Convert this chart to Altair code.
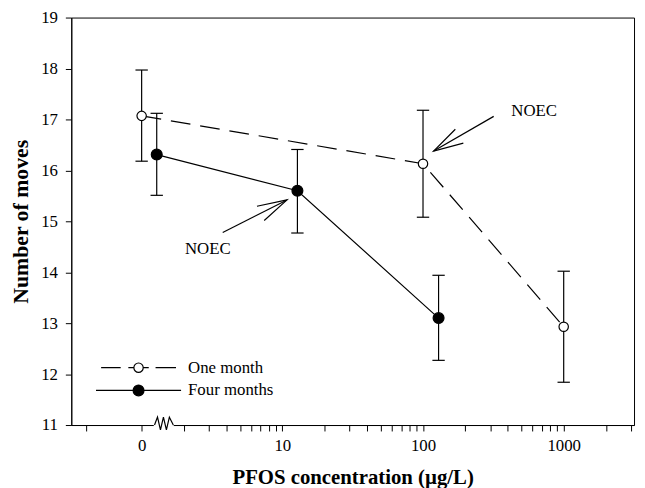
import altair as alt
import pandas as pd

# ---- data (x position of the "0" group is drawn at 1 because of the axis break)
series_names = ["One month", "Four months"]
one_x = [1, 100, 1000]
one_mean = [17.07, 16.13, 12.93]
one_lo = [16.18, 15.08, 11.84]
one_hi = [17.97, 17.18, 14.02]
four_x = [1.28, 12.8, 129]
four_mean = [16.31, 15.60, 13.10]
four_lo = [15.51, 14.77, 12.27]
four_hi = [17.12, 16.41, 13.94]

x_tick_values = [0.4, 1, 2, 3, 4, 5, 6, 7, 8, 9, 10, 20, 30, 40, 50, 60, 70, 80, 90,
                 100, 200, 300, 400, 500, 600, 700, 800, 900, 1000, 2000, 3000]
y_tick_values = [11, 12, 13, 14, 15, 16, 17, 18, 19]

# annotations (data units)
ann_text = ["NOEC", "NOEC"]
ann_text_x = [617, 2.95]
ann_text_y = [17.17, 14.46]
ann_from_x = [318, 3.77]
ann_from_y = [17.06, 14.78]
ann_to_x = [119, 10.8]
ann_to_y = [16.38, 15.42]
ann_angle = [150, 333]

break_x = [1.44]
break_from = [1.22]
break_to = [1.69]

FONT = "Liberation Serif"

rows = []
for x, m, lo, hi in zip(one_x, one_mean, one_lo, one_hi):
    rows.append(dict(series=series_names[0], x=x, mean=m, lo=lo, hi=hi))
for x, m, lo, hi in zip(four_x, four_mean, four_lo, four_hi):
    rows.append(dict(series=series_names[1], x=x, mean=m, lo=lo, hi=hi))
df = pd.DataFrame(rows)
df_one = df[df.series == series_names[0]]
df_four = df[df.series == series_names[1]]

ann = pd.DataFrame(dict(text=ann_text, tx=ann_text_x, ty=ann_text_y,
                        fx=ann_from_x, fy=ann_from_y, ax=ann_to_x, ay=ann_to_y,
                        angle=ann_angle))
brk = pd.DataFrame(dict(x=break_x, x1=break_from, x2=break_to, y=[11]))

xscale = alt.Scale(type="log", domain=[0.3162, 3162], nice=False)
yscale = alt.Scale(domain=[11, 19], nice=False, zero=False)

x_axis = alt.Axis(
    values=x_tick_values,
    labelExpr="datum.value == 1 ? '0' : (datum.value == 10 || datum.value == 100 || datum.value == 1000) ? format(datum.value, 'd') : ''",
    title="PFOS concentration (µg/L)",
    labelOverlap=False,
    grid=False,
    tickSize=6,
    labelPadding=7,
    titlePadding=13,
    titleFontSize=21,
)
y_axis = alt.Axis(
    values=y_tick_values,
    title="Number of moves",
    grid=False,
    tickSize=6,
    labelPadding=8,
    titlePadding=8,
    titleFontSize=22,
)

X = alt.X("x:Q", scale=xscale, axis=x_axis)
Y = alt.Y("mean:Q", scale=yscale, axis=y_axis)

base = alt.Chart(df)

err_rule = base.mark_rule(color="black", strokeWidth=1.2).encode(
    x=alt.X("x:Q", scale=xscale), y=alt.Y("lo:Q", scale=yscale), y2="hi:Q"
)
cap_path = "M-1,0L1,0"
cap_lo = base.mark_point(shape=cap_path, size=156, filled=False, stroke="black",
                         strokeWidth=1.2, opacity=1).encode(
    x=alt.X("x:Q", scale=xscale), y=alt.Y("lo:Q", scale=yscale))
cap_hi = base.mark_point(shape=cap_path, size=156, filled=False, stroke="black",
                         strokeWidth=1.2, opacity=1).encode(
    x=alt.X("x:Q", scale=xscale), y=alt.Y("hi:Q", scale=yscale))

line_one = alt.Chart(df_one).mark_line(
    color="black", strokeWidth=1.2, strokeDash=[20, 10]).encode(x=X, y=Y, order="x:Q")
line_four = alt.Chart(df_four).mark_line(
    color="black", strokeWidth=1.2).encode(x=X, y=Y, order="x:Q")

points_one = alt.Chart(df_one).mark_point(
    shape="circle", size=90, filled=True, fill="white", stroke="black",
    strokeWidth=1.2, opacity=1).encode(x=X, y=Y)
points_four = alt.Chart(df_four).mark_point(
    shape="circle", size=121, filled=True, fill="black", stroke="black",
    strokeWidth=1.2, opacity=1).encode(x=X, y=Y)

# legend symbols: line + marker drawn as one path each
R = 0.128
r = 0.11
circle_f = f"M{R},0A{R},{R} 0 1,1 -{R},0A{R},{R} 0 1,1 {R},0Z"
circle_o = f"M{r},0A{r},{r} 0 1,1 -{r},0A{r},{r} 0 1,1 {r},0Z"
path_one = "M-0.88,0L-0.42,0M-0.24,0L-0.11,0M0.11,0L0.24,0M0.40,0L0.88,0" + circle_o
path_four = "M-1,0L1,0" + circle_f


def make_legend(y, path):
    return alt.Legend(
        title=None, orient="none", legendX=24, legendY=y, padding=0,
        labelOffset=6, labelFont=FONT, labelFontSize=17, labelColor="black",
        symbolSize=7396, symbolType=path, symbolStrokeColor="black",
        symbolStrokeWidth=1.2, symbolOpacity=1,
    )


leg_df = pd.DataFrame({"s1": [series_names[0]], "s2": [series_names[1]],
                       "x": [1], "mean": [15]})
legend_one = alt.Chart(leg_df).transform_filter("datum.x > 100000").mark_point(
    shape=path_one, filled=True, stroke="black", strokeWidth=1.2, opacity=1).encode(
    x=alt.X("x:Q", scale=xscale), y=alt.Y("mean:Q", scale=yscale),
    fill=alt.Fill("s1:N", scale=alt.Scale(domain=[series_names[0]], range=["white"]),
                  legend=make_legend(310, path_one)),
)
legend_four = alt.Chart(leg_df).transform_filter("datum.x > 100000").mark_point(
    shape=path_four, filled=True, fill="black", strokeWidth=1.2, opacity=1).encode(
    x=alt.X("x:Q", scale=xscale), y=alt.Y("mean:Q", scale=yscale),
    stroke=alt.Stroke("s2:N", scale=alt.Scale(domain=[series_names[1]], range=["black"]),
                      legend=make_legend(333, path_four)),
)

ann_base = alt.Chart(ann)
shafts = ann_base.mark_rule(color="black", strokeWidth=1.2).encode(
    x=alt.X("fx:Q", scale=xscale), y=alt.Y("fy:Q", scale=yscale),
    x2="ax:Q", y2="ay:Q")
heads = ann_base.mark_point(shape="M-1,-0.27L0,0L-1,0.27", size=3600, filled=False,
                            stroke="black", strokeWidth=1.2, opacity=1).encode(
    x=alt.X("ax:Q", scale=xscale), y=alt.Y("ay:Q", scale=yscale),
    angle=alt.Angle("angle:Q", scale=None))
labels = ann_base.mark_text(font=FONT, fontSize=17, color="black", align="center",
                            baseline="middle").encode(
    x=alt.X("tx:Q", scale=xscale), y=alt.Y("ty:Q", scale=yscale), text="text:N")

brk_base = alt.Chart(brk)
brk_white = brk_base.mark_rule(color="white", strokeWidth=3).encode(
    x=alt.X("x1:Q", scale=xscale), x2="x2:Q", y=alt.Y("y:Q", scale=yscale))
brk_zig = brk_base.mark_point(
    shape="M-0.95,0L-0.65,-0.8L-0.35,0.5L-0.05,-0.8L0.25,0.5L0.55,-0.8L0.95,0",
    size=400, filled=False, stroke="black", strokeWidth=1.2, opacity=1).encode(
    x=alt.X("x:Q", scale=xscale), y=alt.Y("y:Q", scale=yscale))

chart = alt.layer(
    err_rule, cap_lo, cap_hi, line_one, line_four, points_one, points_four,
    legend_one, legend_four, shafts, heads, labels, brk_white, brk_zig
).properties(
    width=569, height=412,
    padding={"left": 64, "top": 7, "right": 3, "bottom": 61},
    autosize=alt.AutoSizeParams(type="none"),
).configure(font=FONT).configure_view(
    stroke="black", strokeWidth=1
).configure_axis(
    domainColor="black", tickColor="black", labelColor="black", titleColor="black",
    labelFont=FONT, titleFont=FONT, labelFontSize=17,
    titleFontWeight="bold", domainWidth=1, tickWidth=1,
)

chart.save("out.html", embed_options={"renderer": "svg", "actions": False})
